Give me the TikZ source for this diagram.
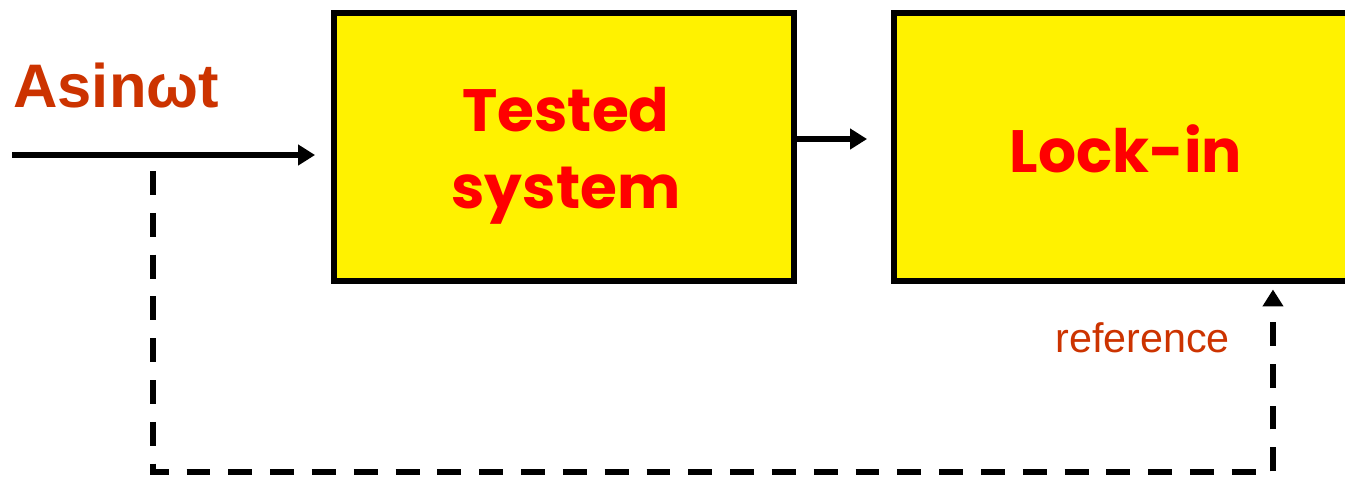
\documentclass[tikz,border=0pt]{standalone}
\usepackage{fontspec}
\setmainfont{Liberation Sans}
\newfontfamily\boxfont{Poppins}
\usetikzlibrary{arrows.meta}

\definecolor{labelred}{HTML}{CC3300}

\tikzset{
  block/.style={draw=black, line width=3.4pt, fill=yellow, minimum width=9.2cm, minimum height=5.36cm, inner sep=0},
  blocktext/.style={text=red, align=center, inner sep=0, font=\boxfont\bfseries\fontsize{34}{44}\selectfont},
  arr/.style={line width=3.4pt, -{Triangle[length=0.34cm,width=0.4cm]}},
  refline/.style={arr, dash pattern=on 13.6pt off 10.2pt},
  lbl/.style={text=labelred, inner sep=0, anchor=base west}
}

\begin{document}
\begin{tikzpicture}[x=0.02cm, y=-0.02cm]

\useasboundingbox (0,0) rectangle (1345,478);
\clip (0,0) rectangle (1345,478);

\node[block] (ts) at (564,147) {};
\node[block] (li) at (1124,147) {};
\node[blocktext] (tstxt) at (566,156) {Tested\\system};
\node[blocktext, anchor=base] (litxt) at (1126,172) {Lock-in};

\node[lbl, font=\bfseries\fontsize{35}{40}\selectfont] (sig) at (13,107) {Asinωt};
\node[lbl, font=\fontsize{23.5}{28}\selectfont] (ref) at (1055,352) {reference};

\coordinate (in) at (12,155);
\coordinate (tap) at (153,171);
\coordinate (bot) at (153,472);

\draw[arr, shorten >=0.32cm] (in) -- (in -| ts.west);
\draw[arr, shorten >=0.48cm] ([yshift=0.16cm]ts.east) -- ([yshift=0.16cm]li.west);
\draw[refline, shorten >=0.11cm] (tap) -- (bot) -| ([xshift=2.98cm]li.south);

\end{tikzpicture}
\end{document}
